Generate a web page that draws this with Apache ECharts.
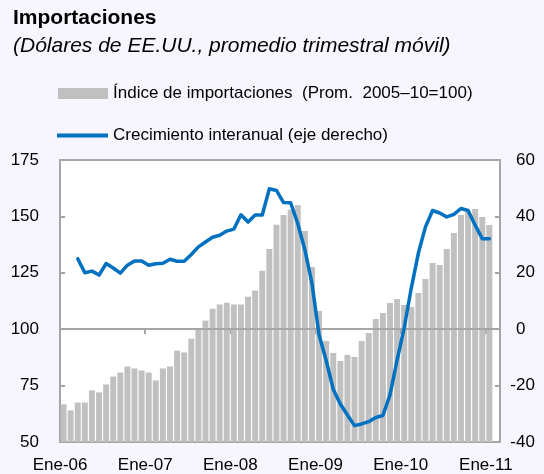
<!DOCTYPE html>
<html>
<head>
<meta charset="utf-8">
<script src="https://cdn.jsdelivr.net/npm/echarts@6/dist/echarts.min.js"></script>
<style>
  html, body { margin: 0; padding: 0; background: #F7F5FD; }
  #grafico { width: 544px; height: 474px; }
</style>
</head>
<body>
<div id="grafico"></div>
<script>
// meses y años del eje x (ene-06 a feb-11)
var meses = ['Ene', 'Feb', 'Mar', 'Abr', 'May', 'Jun', 'Jul', 'Ago', 'Sep', 'Oct', 'Nov', 'Dic'];
var anios = ['06', '07', '08', '09', '10', '11'];

// Índice de importaciones (Prom. 2005-10=100), eje izquierdo
var indice = [
  66.7, 64, 67.5, 67.5, 72.9, 72, 75.5, 79, 80.8, 83.5, 82.6, 81.7,
  80.8, 77.3, 82.6, 83.5, 90.5, 89.7, 95.8, 100.3, 103.8, 109.1, 110.9, 111.7,
  110.9, 110.9, 114.4, 117.1, 125.9, 135.6, 146.3, 150.6, 153, 155.1, 143.5, 127.6,
  108.1, 94.8, 89.5, 85.9, 88.6, 87.7, 94.8, 98.3, 104.5, 107.2, 111.6, 113.4,
  110.7, 109.8, 116, 122.3, 129.3, 128.5, 135.5, 142.6, 150.6, 152, 153.3, 149.7,
  146.2
];

// Crecimiento interanual (%), eje derecho
var crecimiento = [
  '-', '-', 25, 20, 20.6, 19.2, 23.3, 21.7, 19.9, 22.7, 24.2, 24.2,
  22.7, 23.2, 23.4, 24.8, 24.1, 24.1, 26.5, 29.2, 30.9, 32.6, 33.3, 34.8,
  35.5, 40.6, 38, 40.5, 40.5, 49.8, 49.2, 44.9, 44.8, 37.5, 28.2, 16.3,
  -2, -11, -21.3, -26.5, -30.4, -34.2, -33.6, -32.8, -31.3, -30.6, -23.3, -11,
  0.5, 14.6, 27, 36.3, 42.1, 41.2, 39.8, 40.7, 42.8, 42.1, 36.9, 32.1,
  32.1
];

var categorias = [];
for (var a = 0; a < anios.length; a++) {
  for (var m = 0; m < 12; m++) {
    categorias.push(meses[m] + '-' + anios[a]);
    if (categorias.length === 62) break;
  }
  if (categorias.length === 62) break;
}

var fuente = '"Liberation Sans", Arial, sans-serif';
var gris = '#A6A6A6';

var chart = echarts.init(document.getElementById('grafico'));

var option = {
  backgroundColor: '#F7F5FD',
  animation: false,
  textStyle: { fontFamily: fuente },
  title: {
    text: 'Importaciones',
    subtext: '(Dólares de EE.UU., promedio trimestral móvil)',
    left: 8,
    top: 3,
    itemGap: 7,
    textStyle: { fontSize: 21, fontWeight: 'bold', color: '#000', fontFamily: fuente },
    subtextStyle: { fontSize: 21, fontStyle: 'italic', color: '#000', fontFamily: fuente }
  },
  legend: [
    {
      left: 53,
      top: 80,
      itemWidth: 50,
      itemHeight: 11,
      textStyle: { fontSize: 17, color: '#000', fontFamily: fuente },
      data: [{ name: 'Índice de importaciones  (Prom.  2005–10=100)', icon: 'rect' }]
    },
    {
      left: 52,
      top: 122,
      itemWidth: 51,
      itemHeight: 4,
      textStyle: { fontSize: 17, color: '#000', fontFamily: fuente },
      data: [{ name: 'Crecimiento interanual (eje derecho)', icon: 'rect' }]
    }
  ],
  grid: {
    left: 60,
    right: 44,
    top: 160,
    bottom: 32,
    show: true,
    backgroundColor: '#fff',
    borderColor: gris,
    borderWidth: 2
  },
  xAxis: {
    type: 'category',
    data: categorias,
    boundaryGap: true,
    axisLine: { show: true, lineStyle: { color: gris, width: 2 } },
    axisTick: {
      show: true,
      length: 5,
      lineStyle: { color: gris, width: 2 },
      interval: function (i) { return i % 12 === 0; }
    },
    axisLabel: {
      interval: function (i) { return i % 12 === 0; },
      fontSize: 17,
      color: '#000',
      margin: 15,
      padding: [0, 7, 0, 0]
    },
    splitLine: { show: false }
  },
  yAxis: [
    {
      type: 'value',
      min: 50,
      max: 175,
      interval: 25,
      axisLine: { show: true, lineStyle: { color: gris, width: 2 } },
      axisTick: { show: true, inside: true, length: 5, lineStyle: { color: gris, width: 2 } },
      axisLabel: { fontSize: 17, color: '#000', margin: 21 },
      splitLine: { show: false }
    },
    {
      type: 'value',
      min: -40,
      max: 60,
      interval: 20,
      axisLine: { show: true, lineStyle: { color: gris, width: 2 } },
      axisTick: { show: true, inside: true, length: 5, lineStyle: { color: gris, width: 2 } },
      axisLabel: {
        fontSize: 17,
        color: '#000',
        margin: 10,
        align: 'left',
        // el signo menos queda fuera de la columna de dígitos
        formatter: function (v) {
          return '{s|' + (v < 0 ? '-' : '') + '}{d|' + Math.abs(v) + '}';
        },
        rich: {
          s: { width: 6, align: 'right', fontSize: 17, color: '#000', fontFamily: fuente },
          d: { fontSize: 17, color: '#000', fontFamily: fuente }
        }
      },
      splitLine: { show: false }
    }
  ],
  series: [
    {
      name: 'Índice de importaciones  (Prom.  2005–10=100)',
      type: 'bar',
      yAxisIndex: 0,
      data: indice,
      barCategoryGap: '16%',
      itemStyle: { color: '#C0C0C0' },
      markLine: {
        silent: true,
        symbol: 'none',
        label: { show: false },
        lineStyle: { color: gris, width: 2, type: 'solid' },
        data: [{ yAxis: 100 }]
      }
    },
    {
      name: 'Crecimiento interanual (eje derecho)',
      type: 'line',
      yAxisIndex: 1,
      data: crecimiento,
      showSymbol: false,
      symbol: 'none',
      lineStyle: { color: '#0070C0', width: 3.5, join: 'round', cap: 'round' },
      itemStyle: { color: '#0070C0' },
      z: 5
    }
  ]
};

chart.setOption(option);
</script>
</body>
</html>
